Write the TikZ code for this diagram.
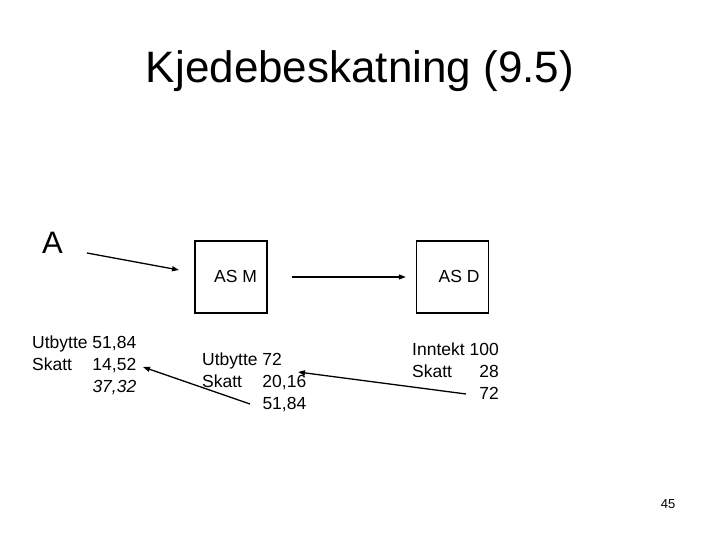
\documentclass[tikz,border=0pt]{standalone}
\usepackage{fontspec}
\setmainfont{Liberation Sans}
\usepackage{tikz}
\usetikzlibrary{arrows.meta, positioning, calc}

\tikzset{
	firm/.style={draw, line width=1.3pt, minimum width=72pt, minimum height=72pt, inner sep=0pt},
	lbl/.style={inner sep=0pt, font=\fontsize{17.5}{21}\selectfont},
	tbl/.style={inner sep=0pt, anchor=base west, font=\fontsize{17.5}{22}\selectfont},
	flow/.style={line width=1.3pt, -{Triangle[length=7pt, width=5pt]}}
}

\begin{document}
\begin{tikzpicture}[x=1pt, y=-1pt]
		\useasboundingbox (0,0) rectangle (720,540);
		
		% Title
		\node[inner sep=0pt, anchor=base, font=\fontsize{44}{50}\selectfont] (title) at (360,83) {Kjedebeskatning (9.5)};
		
		% Firms
		\node[inner sep=0pt, anchor=base west, font=\fontsize{31}{36}\selectfont] (A) at (42,253) {A};
		\node[firm] (M) at (231,277) {};
		\node[firm] (D) at (452.5,277) {};
		\node[lbl] (Mname) at (235.5,276) {AS M};
		\node[lbl] (Dname) at (459,276) {AS D};
		
		% Amounts
		\node[tbl] (Atab) at (32,348) {\begin{tabular}[t]{@{}l@{\ }r@{}}
				Utbytte & 51,84\\
				Skatt & 14,52\\
				& \textit{37,32}
		\end{tabular}};
		\node[tbl] (Mtab) at (202,365) {\begin{tabular}[t]{@{}l@{\ }l@{}}
				Utbytte & 72\\
				Skatt & 20,16\\
				& 51,84
		\end{tabular}};
		\node[tbl] (Dtab) at (412,355) {\begin{tabular}[t]{@{}l@{\ }r@{}}
				Inntekt & 100\\
				Skatt & 28\\
				& 72
		\end{tabular}};
		
		% Page number
		\node[inner sep=0pt, font=\fontsize{13}{15}\selectfont] (page) at (668,504) {45};
		
		% Flows
		\coordinate (a1) at (87,253);
		\coordinate (a2) at (179,270);
		\draw[flow] (a1) -- (a2);
		\draw[flow, shorten <=24pt, shorten >=10pt] (M.east) -- (D.west);
		\coordinate (d1) at (466,394);
		\coordinate (m1) at (298,372);
		\draw[flow] (d1) -- (m1);
		\coordinate (m2) at (250,404);
		\coordinate (l1) at (143,367);
		\draw[flow] (m2) -- (l1);
	\end{tikzpicture}
\end{document}
